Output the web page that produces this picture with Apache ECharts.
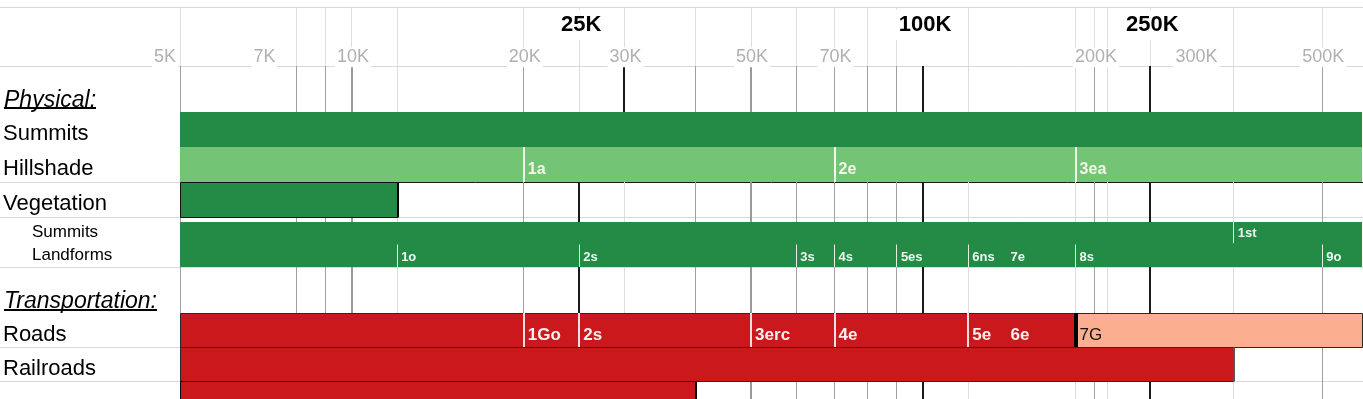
<!DOCTYPE html>
<html><head><meta charset="utf-8">
<script src="https://cdn.jsdelivr.net/npm/echarts@6/dist/echarts.min.js"></script>
<style>html,body{margin:0;padding:0;background:#fff}#c{width:1363px;height:399px}</style>
</head><body><div id="c"></div>
<script>
// ---------------- data ----------------
const axisMin = 5000;
const axisMax = 587000;
const columnValues = [5000, 8000, 9000, 10000, 12000, 20000, 25000, 30000, 40000, 50000, 60000, 70000, 80000, 90000, 100000, 120000, 185000, 200000, 210000, 250000, 350000, 500000];
const tickValues = [5000, 7000, 10000, 20000, 30000, 50000, 70000, 200000, 300000, 500000];
const tickLabels = ['5K', '7K', '10K', '20K', '30K', '50K', '70K', '200K', '300K', '500K'];
const majorValues = [25000, 100000, 250000];
const majorLabels = ['25K', '100K', '250K'];
const rowNames = ['', 'Physical:', 'Summits', 'Hillshade', 'Vegetation', 'Summits\nLandforms', 'Transportation:', 'Roads', 'Railroads', ''];

const summitsRange = [5000, 587000];
const hillshadeRange = [5000, 587000];
const hillshadeBreaks = [20000, 70000, 185000];
const hillshadeLabels = ['1a', '2e', '3ea'];
const vegetationRange = [5000, 12000];
const landformsRange = [5000, 587000];
const summitLevelBreaks = [350000];
const summitLevelLabels = ['1st'];
const landformBreaks = [12000, 25000, 60000, 70000, 90000, 120000, 140000, 185000, 500000];
const landformLabels = ['1o', '2s', '3s', '4s', '5es', '6ns', '7e', '8s', '9o'];
const roadsRange = [5000, 185000];
const roadsLaterRange = [185000, 587000];
const roadBreaks = [20000, 25000, 50000, 70000, 120000, 140000, 185000];
const roadLabels = ['1Go', '2s', '3erc', '4e', '5e', '6e', '7G'];
const railroadsRange = [5000, 350000];
const extraRange = [5000, 40000];

// ---------------- layout / style ----------------
const W = 1363, PLOT_LEFT = 180, PLOT_WIDTH = 1182;
const FONT = 'Liberation Sans, Arial, sans-serif';
const rowLayout = [
  {top: 7, height: 59},   // header
  {top: 66, height: 46},  // Physical
  {top: 112, height: 35}, // Summits
  {top: 147, height: 35}, // Hillshade
  {top: 182, height: 35}, // Vegetation
  {top: 217, height: 50}, // Summits / Landforms
  {top: 267, height: 46}, // Transportation
  {top: 313, height: 34}, // Roads
  {top: 347, height: 34}, // Railroads
  {top: 381, height: 18}  // extra
];
const DARK_GREEN = '#238b45', LIGHT_GREEN = '#74c476', RED = '#cb181d', SALMON = '#fcae91';
const unlinedBreaks = [140000];
const lineStyles = {
  major: {stroke: '#1a1a1a', lineWidth: 2},
  heavy: {stroke: '#999999', lineWidth: 2},
  medium: {stroke: '#a0a0a0', lineWidth: 1},
  light: {stroke: '#dcdcdc', lineWidth: 1}
};
function lineKind(v, row) {
  const major = row === 1 ? [30000, 100000, 250000] : [25000, 100000, 250000];
  if (major.includes(v)) return 'major';
  if (v === 10000 || v === 50000) return 'heavy';
  if ([12000, 25000, 30000, 120000, 185000, 210000, 350000].includes(v)) return 'light';
  return 'medium';
}
function crisp(x, w) { return (w % 2 === 1) ? Math.round(x - 0.5) + 0.5 : Math.round(x); }

const labelKinds = ['main', 'section', 'main', 'main', 'main', 'sub', 'section', 'main', 'main', 'main'];
const richStyles = {
  section: {fontSize: 23, fontStyle: 'italic', padding: [24, 0, 0, 0], margin: 176},
  main: {fontSize: 22, padding: [9, 0, 0, 0], margin: 177},
  sub: {fontSize: 17, lineHeight: 23, padding: [4, 0, 0, 0], margin: 148}
};

const grids = rowLayout.map(r => ({left: PLOT_LEFT, width: PLOT_WIDTH, top: r.top, height: r.height}));
const xAxes = rowLayout.map((r, i) => ({type: 'log', logBase: 10, gridIndex: i, min: axisMin, max: axisMax, show: false}));
const yAxes = rowLayout.map((r, i) => {
  const rs = richStyles[labelKinds[i]];
  const tok = {color: '#000', fontFamily: FONT, fontSize: rs.fontSize, padding: rs.padding};
  if (rs.fontStyle) tok.fontStyle = rs.fontStyle;
  if (rs.lineHeight) tok.lineHeight = rs.lineHeight;
  return {
    type: 'category', gridIndex: i, data: [rowNames[i]],
    axisLine: {show: false}, axisTick: {show: false}, splitLine: {show: false},
    axisLabel: {
      show: true, align: 'left', verticalAlign: 'middle', margin: rs.margin,
      formatter: v => v ? v.split('\n').map(s => '{t|' + s + '}').join('\n') : '',
      rich: {t: tok}
    }
  };
});

const series = [];

// header grid lines + labels
series.push({
  type: 'custom', xAxisIndex: 0, yAxisIndex: 0, z: 1, silent: true,
  data: columnValues.filter(v => v !== 100000).map(v => [v, 0]), encode: {x: 0, y: 1},
  renderItem(params, api) {
    const cs = params.coordSys;
    const x = crisp(api.coord([api.value(0), 0])[0], 1);
    return {type: 'line', shape: {x1: x, y1: cs.y, x2: x, y2: cs.y + cs.height}, style: {stroke: '#dedede', lineWidth: 1}};
  }
});
series.push({
  type: 'custom', xAxisIndex: 0, yAxisIndex: 0, z: 5, silent: true,
  data: tickValues.map(v => [v, 0]), encode: {x: 0, y: 1},
  renderItem(params, api) {
    const cs = params.coordSys;
    const v = api.value(0);
    const x = api.coord([v, 0])[0];
    return {type: 'text', style: {
      text: tickLabels[params.dataIndex], x: v === axisMin ? x - 2 : x + 1, y: cs.y + cs.height * 0.85,
      align: v === axisMin ? 'right' : 'center', verticalAlign: 'middle',
      fill: '#b0b0b0', fontSize: 18, fontFamily: FONT, backgroundColor: '#fff', padding: [1, 2]
    }};
  }
});
series.push({
  type: 'custom', xAxisIndex: 0, yAxisIndex: 0, z: 5, silent: true,
  data: majorValues.map(v => [v, 0]), encode: {x: 0, y: 1},
  renderItem(params, api) {
    const cs = params.coordSys;
    const x = api.coord([api.value(0), 0])[0];
    return {type: 'text', style: {
      text: majorLabels[params.dataIndex], x: x + 2, y: cs.y + cs.height * 0.3,
      align: 'center', verticalAlign: 'middle',
      fill: '#000', fontSize: 22, fontWeight: 'bold', fontFamily: FONT, backgroundColor: '#fff', padding: [4, 3]
    }};
  }
});

// body grid lines
for (let row = 1; row < rowLayout.length; row++) {
  series.push({
    type: 'custom', xAxisIndex: row, yAxisIndex: row, z: 1, silent: true,
    data: columnValues.map(v => [v, 0]), encode: {x: 0, y: 1},
    renderItem(params, api) {
      const cs = params.coordSys;
      const v = api.value(0);
      const st = lineStyles[lineKind(v, row)];
      const x = crisp(api.coord([v, 0])[0], st.lineWidth);
      return {type: 'line', shape: {x1: x, y1: cs.y, x2: x, y2: cs.y + cs.height}, style: {stroke: st.stroke, lineWidth: st.lineWidth}};
    }
  });
}

function barSeries(row, range, fill, opts) {
  opts = opts || {};
  return {
    type: 'custom', xAxisIndex: row, yAxisIndex: row, z: 3, silent: true,
    data: [[range[0], range[1], 0]], encode: {x: [0, 1], y: 2},
    renderItem(params, api) {
      const cs = params.coordSys;
      const lw = opts.lineWidth || 0;
      let x0 = api.coord([api.value(0), 0])[0];
      let x1 = api.coord([api.value(1), 0])[0];
      let y0 = cs.y + (opts.inset || 0);
      let y1 = cs.y + cs.height + (opts.extend || 0);
      if (lw) { x0 = crisp(x0, lw); x1 = crisp(x1, lw); y0 = crisp(y0, lw); y1 = crisp(y1, lw); }
      const children = [{type: 'rect', shape: {x: x0, y: y0, width: x1 - x0, height: y1 - y0},
        style: {fill: fill, stroke: lw ? opts.stroke : 'none', lineWidth: lw}}];
      if (opts.rightEdge) {
        const rx = Math.round(x1);
        children.push({type: 'line', shape: {x1: rx, y1: y0, x2: rx, y2: y1},
          style: {stroke: opts.rightEdge.stroke, lineWidth: opts.rightEdge.lineWidth}});
      }
      return {type: 'group', children: children};
    }
  };
}

function dividerSeries(row, breaks, labels, cfg) {
  return {
    type: 'custom', xAxisIndex: row, yAxisIndex: row, z: 4, silent: true,
    data: breaks.map(v => [v, 0]), encode: {x: 0, y: 1},
    renderItem(params, api) {
      const cs = params.coordSys;
      const v = api.value(0);
      const px = api.coord([v, 0])[0];
      const top = cs.y + (cfg.inset || 0);
      const h = cs.height - (cfg.inset || 0);
      const children = [];
      const ls = cfg.lineStyle(v);
      if (ls) {
        const x = crisp(px, ls.lineWidth);
        children.push({type: 'line', shape: {x1: x, y1: top + h * cfg.lineFrom, x2: x, y2: top + h * cfg.lineTo},
          style: {stroke: ls.stroke, lineWidth: ls.lineWidth}});
      }
      const ts = cfg.textStyle(v);
      children.push({type: 'text', style: Object.assign({
        text: labels[params.dataIndex], x: px + 4, y: top + h * cfg.labelFrac,
        align: 'left', verticalAlign: 'middle', fontFamily: FONT
      }, ts)});
      return {type: 'group', children: children};
    }
  };
}

// Summits
series.push(barSeries(2, summitsRange, DARK_GREEN));
// Hillshade
series.push(barSeries(3, hillshadeRange, LIGHT_GREEN));
series.push(dividerSeries(3, hillshadeBreaks, hillshadeLabels, {
  lineFrom: 0, lineTo: 1, labelFrac: 0.65,
  lineStyle: () => ({stroke: '#f2f7ec', lineWidth: 2}),
  textStyle: () => ({fill: '#f4f6e8', fontSize: 16, fontWeight: 'bold'})
}));
// Vegetation
series.push(barSeries(4, vegetationRange, DARK_GREEN, {stroke: '#111', lineWidth: 1, rightEdge: {stroke: '#000', lineWidth: 2}}));
// Summits / Landforms
series.push(barSeries(5, landformsRange, DARK_GREEN, {inset: 5}));
series.push(dividerSeries(5, summitLevelBreaks, summitLevelLabels, {
  inset: 5, lineFrom: 0, lineTo: 0.47, labelFrac: 0.25,
  lineStyle: () => ({stroke: '#e6efe6', lineWidth: 1}),
  textStyle: () => ({fill: '#f2f6f2', fontSize: 13, fontWeight: 'bold'})
}));
series.push(dividerSeries(5, landformBreaks, landformLabels, {
  inset: 5, lineFrom: 0.5, lineTo: 1, labelFrac: 0.79,
  lineStyle: v => unlinedBreaks.includes(v) ? null : {stroke: '#e6efe6', lineWidth: 1},
  textStyle: () => ({fill: '#f2f6f2', fontSize: 13, fontWeight: 'bold'})
}));
// Roads
series.push(barSeries(7, roadsRange, RED, {stroke: '#2a2a2a', lineWidth: 1}));
series.push(barSeries(7, roadsLaterRange, SALMON, {stroke: '#2a2a2a', lineWidth: 1}));
series.push(dividerSeries(7, roadBreaks, roadLabels, {
  lineFrom: 0, lineTo: 1, labelFrac: 0.67,
  lineStyle: v => unlinedBreaks.includes(v) ? null : (v === roadsRange[1] ? {stroke: '#000', lineWidth: 4} : {stroke: '#f6dede', lineWidth: 2}),
  textStyle: v => v >= roadsRange[1] ? {fill: '#111', fontSize: 17} : {fill: '#fbefef', fontSize: 17, fontWeight: 'bold'}
}));
// Railroads
series.push(barSeries(8, railroadsRange, RED, {stroke: '#2a2a2a', lineWidth: 1, rightEdge: {stroke: '#555', lineWidth: 2}}));
// extra row
series.push(barSeries(9, extraRange, RED, {stroke: '#111', lineWidth: 1, extend: 4, rightEdge: {stroke: '#000', lineWidth: 2}}));

// decorative frame lines
const hLines = [
  {y: 7, x1: 0, x2: W, c: '#d9d9d9'},
  {y: 66, x1: 0, x2: W, c: '#d9d9d9'},
  {y: 182, x1: 0, x2: PLOT_LEFT, c: '#d9d9d9'},
  {y: 182, x1: PLOT_LEFT, x2: W, c: '#1a1a1a'},
  {y: 217, x1: 0, x2: W, c: '#ddd6d6'},
  {y: 267, x1: 0, x2: W, c: '#d9d9d9'},
  {y: 347, x1: 0, x2: PLOT_LEFT, c: '#d9d9d9'},
  {y: 381, x1: 0, x2: W, c: '#d9d9d9'}
];
const graphic = hLines.map(l => ({type: 'line', z: 0, silent: true,
  shape: {x1: l.x1, y1: l.y + 0.5, x2: l.x2, y2: l.y + 0.5}, style: {stroke: l.c, lineWidth: 1}}));
graphic.push({type: 'line', z: 5, silent: true, shape: {x1: 4, y1: 108, x2: 96, y2: 108}, style: {stroke: '#000', lineWidth: 2}});
graphic.push({type: 'line', z: 5, silent: true, shape: {x1: 4, y1: 310, x2: 157, y2: 310}, style: {stroke: '#000', lineWidth: 2}});

const chart = echarts.init(document.getElementById('c'), null, {renderer: 'canvas'});
chart.setOption({
  animation: false,
  backgroundColor: '#fff',
  grid: grids, xAxis: xAxes, yAxis: yAxes,
  series: series,
  graphic: graphic
});
</script></body></html>
